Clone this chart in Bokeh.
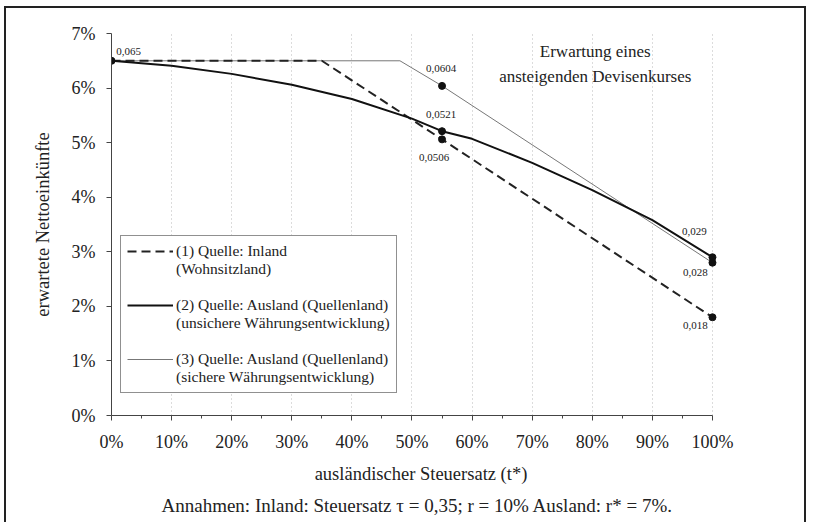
from bokeh.plotting import figure
from bokeh.models import (ColumnDataSource, FixedTicker, PrintfTickFormatter, Legend,
                          LegendItem, Label, Title)
from bokeh.core.properties import value
from bokeh.embed import file_html
from bokeh.resources import INLINE

# ---------------- data ----------------
x_ticks = [0, 10, 20, 30, 40, 50, 60, 70, 80, 90, 100]
y_ticks = [0, 1, 2, 3, 4, 5, 6, 7]

inland_t = [0, 35, 55, 100]
inland_v = [0.065, 0.065, 0.0506, 0.018]

unsicher_t = [0, 10, 20, 30, 40, 50, 55, 60, 70, 80, 90, 100]
unsicher_v = [0.065, 0.0641, 0.0626, 0.0606, 0.0580, 0.0544, 0.0521, 0.0507, 0.0463, 0.0413, 0.0358, 0.029]

sicher_t = [0, 48, 55, 100]
sicher_v = [0.065, 0.065, 0.0604, 0.028]

mark_t = [0, 55, 55, 55, 100, 100, 100]
mark_v = [0.065, 0.0604, 0.0521, 0.0506, 0.029, 0.028, 0.018]

legend_lines = [("(1) Quelle: Inland", "(Wohnsitzland)"),
                ("(2) Quelle: Ausland (Quellenland)", "(unsichere Währungsentwicklung)"),
                ("(3) Quelle: Ausland (Quellenland)", "(sichere Währungsentwicklung)")]
note_text = "Annahmen: Inland: Steuersatz \u03c4 = 0,35; r = 10% Ausland: r* = 7%."
annot_text = "Erwartung eines\nansteigenden Devisenkurses"

# label placement (screen px), not data
lab_dx = [17, -1, -1, -8, -18, -17, -17]
lab_dy = [-9, -17, -17, 18, -26, 10, 8]

FONT = "Liberation Serif"

def pct(vals):
    return [v * 100 for v in vals]

def fmt(v):
    return ("%.4f" % v).rstrip("0").replace(".", ",")

p = figure(width=802, height=516, output_backend="svg", toolbar_location=None,
           x_range=(0, 103), y_range=(0, 7),
           min_border_left=105, min_border_right=78, min_border_top=25, min_border_bottom=109,
           styles={"border-left": "2px solid #222", "border-top": "2px solid #222",
                   "border-right": "2px solid #222", "position": "relative",
                   "left": "4px", "top": "6px"})
p.outline_line_color = None
p.background_fill_color = "white"

# axes
p.xaxis.bounds = (0, 100)
p.xaxis.ticker = FixedTicker(ticks=x_ticks, minor_ticks=[t + 5 for t in x_ticks[:-1]])
p.yaxis.ticker = FixedTicker(ticks=y_ticks)
p.xaxis.formatter = PrintfTickFormatter(format="%d%%")
p.yaxis.formatter = PrintfTickFormatter(format="%d%%")
for ax in (p.xaxis, p.yaxis):
    ax.axis_line_color = "#444"
    ax.major_tick_line_color = "#444"
    ax.minor_tick_line_color = "#444"
    ax.major_tick_in = 0
    ax.major_tick_out = 5
    ax.minor_tick_in = 0
    ax.minor_tick_out = 3
    ax.major_label_text_font = FONT
    ax.major_label_text_font_size = "18px"
    ax.major_label_text_color = "#222"
    ax.axis_label_text_font = FONT
    ax.axis_label_text_font_size = "18.5px"
    ax.axis_label_text_font_style = "normal"
    ax.axis_label_text_color = "#222"
p.yaxis.minor_tick_line_color = None
p.xaxis.major_label_standoff = 11
p.yaxis.major_label_standoff = 11
p.xaxis.axis_label = "ausländischer Steuersatz (t*)"
p.yaxis.axis_label = "erwartete Nettoeinkünfte"
p.xaxis.axis_label_standoff = 9
p.yaxis.axis_label_standoff = 16

p.ygrid.grid_line_color = None
p.xgrid.ticker = FixedTicker(ticks=x_ticks[1:])
p.xgrid.grid_line_color = "#b8b8b8"
p.xgrid.grid_line_dash = "1 3"
p.xgrid.grid_line_width = 1

# series
r3 = p.line(sicher_t, pct(sicher_v), line_color="#777777", line_width=1)
r1 = p.line(inland_t, pct(inland_v), line_color="#222222", line_width=2, line_dash="9 5")
r2 = p.line(unsicher_t, pct(unsicher_v), line_color="#111111", line_width=2)
blank = p.line([], [], line_alpha=0)

src = ColumnDataSource(dict(x=mark_t, y=pct(mark_v), lab=[fmt(v) for v in mark_v],
                            dx=lab_dx, dy=lab_dy))
p.scatter("x", "y", source=src, size=7, color="#111111")
p.text("x", "y", text="lab", source=src, x_offset="dx", y_offset="dy",
       text_align="center", text_baseline="middle",
       text_font=value(FONT), text_font_size="11px", text_color="#222")

p.add_layout(Label(x=80.5, y=6.44, text=annot_text, text_align="center", text_baseline="middle",
                   text_font=FONT, text_font_size="17px", text_color="#222",
                   text_line_height=1.35))

items = []
n = len(legend_lines)
for i, (r, (l1, l2)) in enumerate(zip([r1, r2, r3], legend_lines)):
    items.append(LegendItem(label=l1, renderers=[r]))
    items.append(LegendItem(label=l2 if i == n - 1 else l2 + "\n\u00a0", renderers=[blank]))
legend = Legend(items=items,
                location=(9, 22), label_text_font=FONT, label_text_font_size="15.5px",
                label_text_color="#222", label_text_line_height=1.25,
                glyph_width=46, glyph_height=16,
                label_standoff=3, spacing=0, padding=6,
                border_line_color="#222", border_line_width=1, background_fill_alpha=1)
p.add_layout(legend)

p.add_layout(Title(text=note_text, align="left", offset=50, text_font=FONT,
                   text_font_size="19px", text_font_style="normal", text_color="#222",
                   standoff=12), "below")

open("out.html", "w").write(file_html(p, INLINE))
